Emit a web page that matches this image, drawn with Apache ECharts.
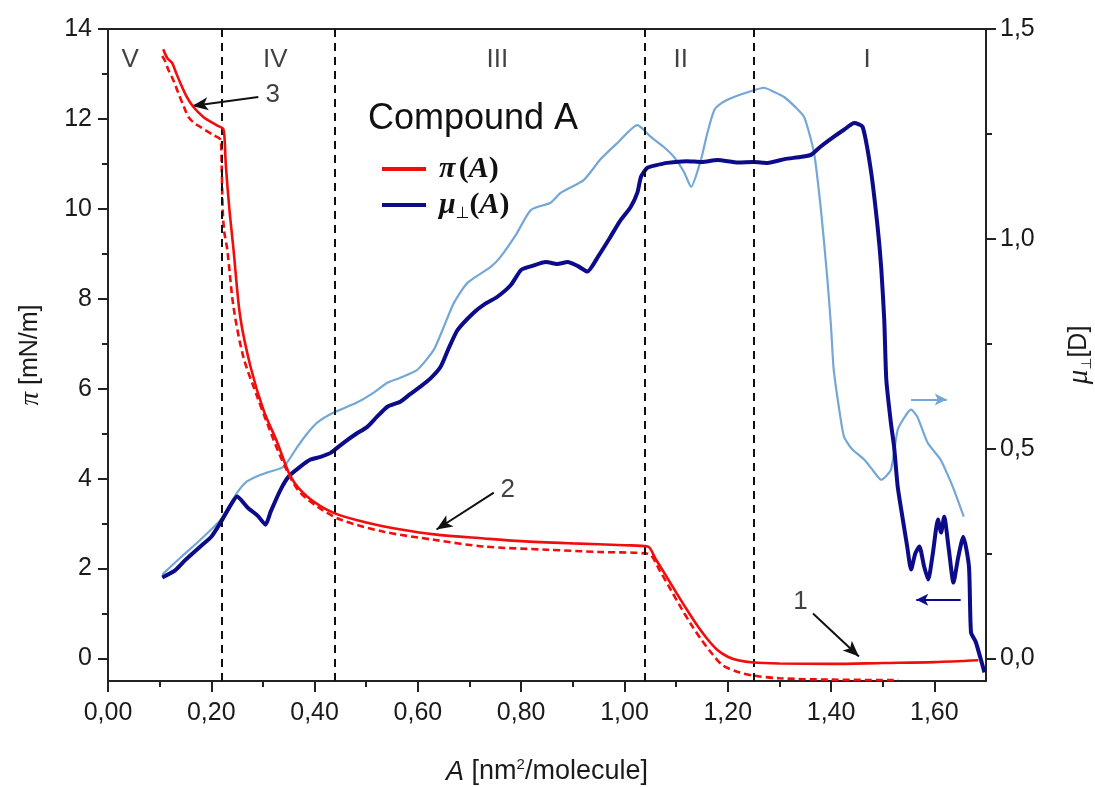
<!DOCTYPE html>
<html><head><meta charset="utf-8">
<script src="https://cdn.jsdelivr.net/npm/echarts@6/dist/echarts.min.js"></script>
<style>html,body{margin:0;padding:0;background:#fff}#c{width:1095px;height:787px}</style>
</head><body><div id="c"></div>
<script>
// ---- axis ticks ----
const xMajorTicks = [0,0.2,0.4,0.6,0.8,1.0,1.2,1.4,1.6];
const xMinorTicks = [0.1,0.3,0.5,0.7,0.9,1.1,1.3,1.5];
const leftMajorTicks = [0,2,4,6,8,10,12,14];
const leftMinorTicks = [1,3,5,7,9,11,13];
const rightMajorTicks = [0,0.5,1.0,1.5];
const rightMinorTicks = [0.25,0.75,1.25];

// ---- pi(A) solid (left axis) ----
const redSolidA = [0.107,0.115,0.124,0.131,0.140,0.152,0.165,0.185,0.200,0.214,0.223,0.226,0.228,0.235,0.243,0.256,0.276,0.301,0.328,0.354,0.386,0.437,0.502,0.567,0.632,0.728,0.80,0.90,1.00,1.045,1.06,1.08,1.10,1.12,1.14,1.16,1.18,1.20,1.22,1.25,1.30,1.40,1.50,1.60,1.685];
const redSolidP = [13.55,13.35,13.25,13.05,12.8,12.5,12.27,12.04,11.93,11.84,11.78,11.5,11.0,10.0,9.1,7.6,6.49,5.53,4.8,4.04,3.6,3.24,3.02,2.87,2.76,2.67,2.61,2.56,2.52,2.49,2.22,1.85,1.47,1.1,0.75,0.44,0.19,0.04,-0.04,-0.09,-0.11,-0.12,-0.1,-0.08,-0.04];

// ---- pi(A) dashed (left axis) ----
const redDashA = [0.105,0.110,0.117,0.127,0.136,0.146,0.156,0.168,0.179,0.204,0.218,0.220,0.222,0.225,0.231,0.243,0.262,0.289,0.308,0.334,0.367,0.405,0.450,0.534,0.631,0.728,0.85,0.95,1.045,1.07,1.09,1.11,1.13,1.15,1.17,1.19,1.22,1.25,1.30,1.40,1.53];
const redDashP = [13.4,13.3,13.09,12.85,12.58,12.3,12.04,11.9,11.82,11.64,11.53,11.0,10.0,9.5,9.09,7.82,6.71,5.82,5.24,4.49,3.76,3.38,3.09,2.82,2.64,2.49,2.42,2.37,2.33,1.92,1.52,1.12,0.74,0.4,0.1,-0.15,-0.3,-0.38,-0.44,-0.47,-0.48];

// ---- mu(A) dark (right axis) ----
const navyA = [0.105,0.13,0.15,0.179,0.20,0.218,0.235,0.25,0.27,0.29,0.305,0.315,0.334,0.35,0.37,0.392,0.41,0.431,0.456,0.48,0.502,0.52,0.541,0.566,0.585,0.605,0.625,0.644,0.66,0.677,0.708,0.73,0.754,0.78,0.80,0.82,0.848,0.87,0.89,0.91,0.928,0.95,0.973,0.99,1.012,1.025,1.032,1.044,1.06,1.083,1.12,1.15,1.18,1.22,1.25,1.277,1.31,1.34,1.361,1.38,1.405,1.425,1.445,1.461,1.477,1.49,1.497,1.503,1.507,1.516,1.522,1.529,1.539,1.547,1.555,1.563,1.571,1.58,1.588,1.597,1.607,1.613,1.619,1.628,1.637,1.646,1.656,1.667,1.671,1.68,1.69,1.697];
const navyMu = [0.193,0.21,0.235,0.267,0.29,0.324,0.36,0.386,0.36,0.34,0.319,0.35,0.402,0.434,0.455,0.474,0.48,0.49,0.514,0.535,0.552,0.575,0.6,0.612,0.63,0.648,0.668,0.695,0.74,0.783,0.824,0.845,0.862,0.89,0.926,0.935,0.945,0.94,0.945,0.935,0.922,0.96,1.005,1.04,1.076,1.11,1.148,1.169,1.175,1.181,1.185,1.183,1.188,1.182,1.183,1.181,1.19,1.195,1.2,1.22,1.243,1.26,1.276,1.267,1.164,1.03,0.933,0.807,0.664,0.56,0.505,0.41,0.331,0.27,0.212,0.25,0.267,0.22,0.188,0.25,0.331,0.3,0.338,0.26,0.181,0.24,0.29,0.219,0.062,0.04,-0.002,-0.033];

// ---- mu(A) light (right axis) ----
const lightA = [0.105,0.14,0.179,0.218,0.25,0.269,0.29,0.308,0.34,0.367,0.385,0.405,0.437,0.482,0.51,0.541,0.566,0.599,0.631,0.65,0.67,0.696,0.741,0.76,0.79,0.819,0.857,0.877,0.921,0.954,0.986,1.025,1.051,1.075,1.096,1.115,1.129,1.148,1.16,1.174,1.19,1.212,1.24,1.27,1.29,1.309,1.33,1.348,1.367,1.381,1.393,1.40,1.405,1.415,1.425,1.44,1.464,1.48,1.497,1.516,1.529,1.545,1.555,1.567,1.587,1.612,1.625,1.638,1.657];
const lightMu = [0.2,0.24,0.283,0.331,0.395,0.422,0.435,0.443,0.457,0.505,0.535,0.562,0.586,0.61,0.63,0.657,0.669,0.688,0.736,0.79,0.848,0.895,0.933,0.957,1.01,1.069,1.086,1.11,1.14,1.19,1.228,1.271,1.243,1.22,1.195,1.16,1.124,1.188,1.25,1.307,1.325,1.338,1.35,1.36,1.35,1.338,1.315,1.29,1.205,1.062,0.902,0.79,0.69,0.6,0.529,0.5,0.474,0.45,0.426,0.45,0.545,0.58,0.593,0.576,0.514,0.474,0.44,0.402,0.338];

// ---- annotations ----
const phaseBoundaries = [0.22,0.44,1.045,1.25];
const regionNames = ['V','IV','III','II','I'];
const regionX = [0.043,0.324,0.754,1.109,1.47];
const regionY = 13.31;
const arrowNames = ['3','2','1'];
const arrowLabelX = [0.319,0.774,1.341];
const arrowLabelY = [12.53,3.76,1.27];
const arrowFrom = [[0.291,12.49],[0.747,3.69],[1.365,1.0]];
const arrowTo = [[0.163,12.29],[0.636,2.87],[1.454,0.044]];
const lightArrow = [[1.555,0.617],[1.624,0.617]];
const navyArrow = [[1.651,0.14],[1.565,0.14]];

const zip = (a,b) => a.map((v,i)=>[v,b[i]]);
const fx2 = v => v.toFixed(2).replace('.',',');
const fx1 = v => v.toFixed(1).replace('.',',');

const RED = '#f20d0d', NAVY = '#0c0c8a', LIGHT = '#74a7d6', AXC = '#222';
const SANS = 'Liberation Sans', SERIF = 'Liberation Serif';
const yLeftMin = -0.5, yLeftMax = 14;
const yRightMax = 1.5, yRightMin = yLeftMin * yRightMax / yLeftMax;

const chart = echarts.init(document.getElementById('c'), null, {renderer:'canvas'});
const axisLineStyle = {show:true, onZero:false, lineStyle:{color:AXC, width:2}};
const tickLab = {fontFamily:SANS, fontSize:25, color:'#1a1a1a'};

chart.setOption({
  animation:false,
  backgroundColor:'#fff',
  grid:{left:108, right:109, top:29, bottom:106, show:true, borderColor:AXC, borderWidth:2,
        containLabel:false, outerBoundsMode:'none'},
  title:{text:'Compound A', left:363, top:96, textStyle:{fontFamily:SANS, fontWeight:'normal', fontSize:36, color:'#111'}},
  legend:{
    data:['piA','muA'], orient:'vertical', left:377, top:149, itemWidth:44, itemHeight:4, itemGap:6,
    icon:'rect', selectedMode:false,
    formatter: n => n==='piA' ? '{i|π} {r|(}{i|A}{r|)}' : '{i|μ}{s|⊥}{r|(}{i|A}{r|)}',
    textStyle:{padding:[0,0,0,8], rich:{
      i:{fontFamily:SERIF, fontStyle:'italic', fontWeight:'bold', fontSize:30, color:'#111', lineHeight:33},
      r:{fontFamily:SERIF, fontWeight:'bold', fontSize:30, color:'#111', lineHeight:33},
      s:{fontFamily:'DejaVu Sans', fontSize:16, color:'#111', verticalAlign:'bottom', lineHeight:33}
    }}
  },
  xAxis:[
    {type:'value', min:0, max:1.7, position:'bottom',
     axisLine:axisLineStyle, splitLine:{show:false},
     axisTick:{show:true, inside:false, length:11, customValues:xMajorTicks, lineStyle:{color:AXC, width:2}},
     axisLabel:{customValues:xMajorTicks, formatter:fx2, margin:20, ...tickLab},
     name:'{i|A} [nm{s|2}/molecule]', nameLocation:'middle', nameGap:76,
     nameTextStyle:{fontFamily:SANS, fontSize:27, color:'#1a1a1a', rich:{
       i:{fontFamily:SANS, fontStyle:'italic', fontSize:27, color:'#1a1a1a'},
       s:{fontFamily:SANS, fontSize:15, color:'#1a1a1a', verticalAlign:'top', lineHeight:30}
     }}},
    {type:'value', min:0, max:1.7, position:'bottom',
     axisLine:{show:false, onZero:false}, splitLine:{show:false},
     axisTick:{show:true, length:6, customValues:xMinorTicks, lineStyle:{color:AXC, width:2}},
     axisLabel:{show:false}}
  ],
  yAxis:[
    {type:'value', min:yLeftMin, max:yLeftMax, position:'left',
     axisLine:axisLineStyle, splitLine:{show:false},
     axisTick:{show:true, length:10, customValues:leftMajorTicks, lineStyle:{color:AXC, width:2}},
     axisLabel:{customValues:leftMajorTicks, margin:16, ...tickLab},
     name:'{i|π} [mN/m]', nameLocation:'middle', nameGap:64,
     nameTextStyle:{fontFamily:SANS, fontSize:25, color:'#1a1a1a', rich:{
       i:{fontFamily:SERIF, fontStyle:'italic', fontSize:27, color:'#1a1a1a'}
     }}},
    {type:'value', min:yRightMin, max:yRightMax, position:'right',
     axisLine:axisLineStyle, splitLine:{show:false},
     axisTick:{show:true, length:10, customValues:rightMajorTicks, lineStyle:{color:AXC, width:2}},
     axisLabel:{customValues:rightMajorTicks, formatter:fx1, margin:14, ...tickLab},
     name:'{i|μ}{s|⊥}[D]', nameLocation:'middle', nameGap:78,
     nameTextStyle:{fontFamily:SANS, fontSize:25, color:'#1a1a1a', rich:{
       i:{fontFamily:SERIF, fontStyle:'italic', fontSize:29, color:'#1a1a1a'},
       s:{fontFamily:'DejaVu Sans', fontSize:14, color:'#1a1a1a', verticalAlign:'bottom', lineHeight:30}
     }}},
    {type:'value', min:yLeftMin, max:yLeftMax, position:'left',
     axisLine:{show:false, onZero:false}, splitLine:{show:false},
     axisTick:{show:true, length:6, customValues:leftMinorTicks, lineStyle:{color:AXC, width:2}},
     axisLabel:{show:false}},
    {type:'value', min:yRightMin, max:yRightMax, position:'right',
     axisLine:{show:false, onZero:false}, splitLine:{show:false},
     axisTick:{show:true, length:6, customValues:rightMinorTicks, lineStyle:{color:AXC, width:2}},
     axisLabel:{show:false}}
  ],
  series:[
    {name:'lightMu', type:'line', xAxisIndex:0, yAxisIndex:1, data:zip(lightA,lightMu), showSymbol:false, smooth:0.2,
     color:LIGHT, lineStyle:{color:LIGHT, width:2.2}, silent:true, z:2,
     markLine:{silent:true, symbol:['none','arrow'], symbolSize:[9,12], label:{show:false},
       lineStyle:{color:LIGHT, width:2, type:'solid'},
       data:[[{coord:lightArrow[0]},{coord:lightArrow[1]}]]}},
    {name:'muA', type:'line', xAxisIndex:0, yAxisIndex:1, data:zip(navyA,navyMu), showSymbol:false, smooth:0.2,
     color:NAVY, lineStyle:{color:NAVY, width:4}, silent:true, z:3,
     markLine:{silent:true, symbol:['none','arrow'], symbolSize:[9,12], label:{show:false},
       lineStyle:{color:NAVY, width:2, type:'solid'},
       data:[[{coord:navyArrow[0]},{coord:navyArrow[1]}]]}},
    {name:'piDash', type:'line', xAxisIndex:0, yAxisIndex:0, data:zip(redDashA,redDashP), showSymbol:false, smooth:0.3,
     color:RED, lineStyle:{color:RED, width:2.6, type:[7,4]}, silent:true, z:4},
    {name:'piA', type:'line', xAxisIndex:0, yAxisIndex:0, data:zip(redSolidA,redSolidP), showSymbol:false, smooth:0.3,
     color:RED, lineStyle:{color:RED, width:2.6}, silent:true, z:5,
     markLine:{silent:true, symbol:['none','none'], label:{show:false}, animation:false,
       data:phaseBoundaries.map(v=>({xAxis:v, lineStyle:{color:'#111', width:2, type:[8,6]}}))}},
    {name:'arrows', type:'line', xAxisIndex:0, yAxisIndex:0, data:[], silent:true, z:6,
     markLine:{silent:true, symbol:['none','arrow'], symbolSize:[10,16], label:{show:false}, animation:false,
       lineStyle:{color:'#111', width:2, type:'solid'},
       data:arrowFrom.map((p,i)=>[{coord:p},{coord:arrowTo[i]}])}},
    {name:'labels', type:'scatter', xAxisIndex:0, yAxisIndex:0, symbolSize:0, silent:true, z:10,
     data:[...regionNames.map((n,i)=>({value:[regionX[i],regionY], name:n})),
           ...arrowNames.map((n,i)=>({value:[arrowLabelX[i],arrowLabelY[i]], name:n}))],
     label:{show:true, position:'inside', formatter:p=>p.name, fontFamily:SANS, fontSize:26, color:'#111'}}
  ]
});
</script></body></html>
